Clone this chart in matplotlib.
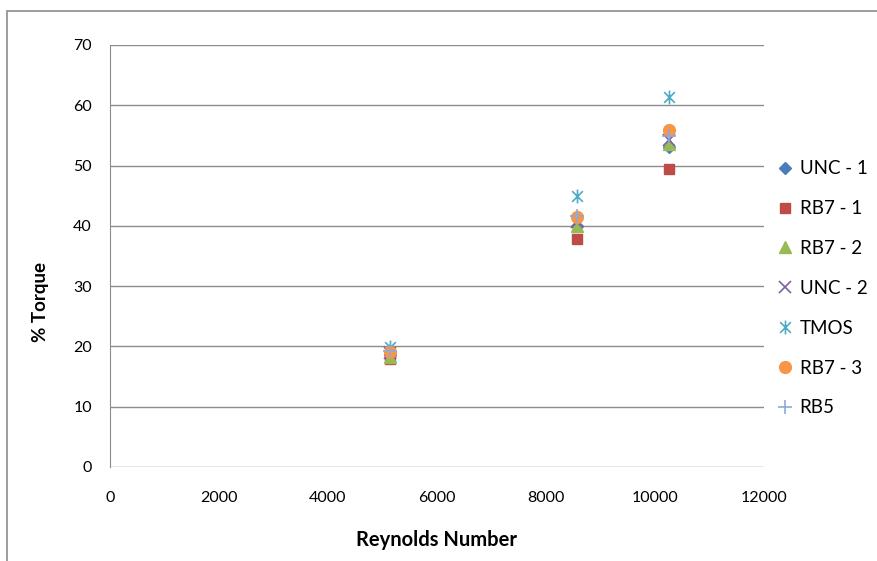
import numpy as np
import matplotlib.pyplot as plt
from matplotlib.path import Path
from matplotlib.patches import Rectangle

plt.rcParams['font.family'] = ['Lato', 'DejaVu Sans']

# Reynolds numbers of the three test speeds
reynolds = [5130, 8560, 10255]

# % torque for each rotor
unc_1 = [18.5, 40.0, 53.0]
rb7_1 = [17.9, 37.8, 49.4]
rb7_2 = [18.3, 40.0, 53.6]
unc_2 = [18.9, 40.6, 54.2]
tmos = [19.9, 45.0, 61.4]
rb7_3 = [19.1, 41.4, 55.9]
rb5 = [19.3, 41.6, 54.9]

labels = ['UNC - 1', 'RB7 - 1', 'RB7 - 2', 'UNC - 2', 'TMOS', 'RB7 - 3', 'RB5']

# x with a vertical bar through it
star = Path(
    [(-1, -1), (1, 1), (-1, 1), (1, -1), (0, -1.3), (0, 1.3)],
    [Path.MOVETO, Path.LINETO, Path.MOVETO, Path.LINETO, Path.MOVETO, Path.LINETO],
)

styles = [
    dict(marker='D', color='#4A7EBB', ms=6.5),
    dict(marker='s', color='#BE4B48', ms=6.5),
    dict(marker='^', color='#98B954', ms=8),
    dict(marker='x', color='#7D60A0', ms=8, mew=1.2),
    dict(marker=star, color='#4BACC6', ms=10, mew=1.2),
    dict(marker='o', color='#F79646', ms=8.5),
    dict(marker='+', color='#8EA9DB', ms=10, mew=1.2),
]

series = [unc_1, rb7_1, rb7_2, unc_2, tmos, rb7_3, rb5]

fig = plt.figure(figsize=(8.77, 5.61), dpi=100)
ax = fig.add_axes([110 / 877, 94 / 561, 654 / 877, 422 / 561])

for vals, lab, st in zip(series, labels, styles):
    ax.plot(reynolds, vals, linestyle='none', label=lab, zorder=3, **st)

ax.set_xlim(0, 12000)
ax.set_ylim(0, 70)
ax.set_xticks(np.arange(0, 12001, 2000))
ax.set_yticks(np.arange(0, 71, 10))
ax.tick_params(length=0, labelsize=11.5, pad=13)
ax.tick_params(axis='x', pad=17)
ax.grid(axis='y', color='#8C8C8C', linewidth=1)
ax.set_axisbelow(True)
for side in ['top', 'right', 'bottom']:
    ax.spines[side].set_visible(False)
ax.spines['left'].set_color('#8C8C8C')

ax.set_xlabel('Reynolds Number', fontsize=14.5, fontweight='bold', labelpad=18)
ax.set_ylabel('% Torque', fontsize=13.5, fontweight='bold')
ax.yaxis.set_label_coords(-0.093, 0.39)

ax.legend(loc='upper left', bbox_to_anchor=(1.0, 0.758), frameon=False,
          handlelength=0.8, handletextpad=0.4, labelspacing=1.22,
          fontsize=13.5, borderaxespad=0.3)

# chart frame
fig.patches.append(Rectangle((7 / 877, -0.1), 1.1, 550 / 561 + 0.1,
                             transform=fig.transFigure, fill=False,
                             edgecolor='#8C8C8C', linewidth=1.2))

fig.savefig('out.png', dpi=100)
